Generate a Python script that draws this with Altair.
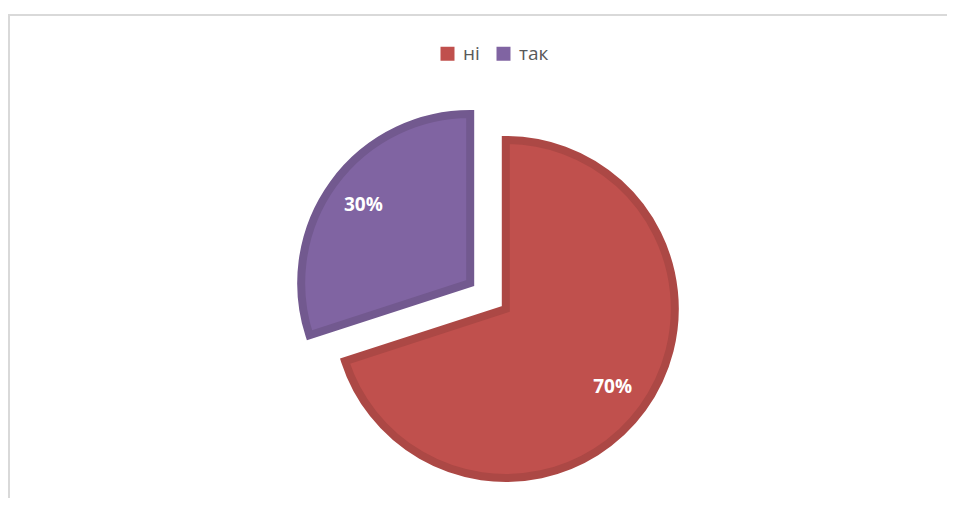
import altair as alt
import pandas as pd

categories = ["ні", "так"]
values = [70, 30]
fills = ["#C0504D", "#8064A2"]
strokes = ["#AC4845", "#72598F"]

df = pd.DataFrame({"cat": categories, "value": values, "idx": list(range(len(categories)))})

CX, CY, EXPLODE, R, LR = 480, 288, 22, 169, 132
W, H = 939, 490

base = (
    alt.Chart(df)
    .transform_joinaggregate(total="sum(value)")
    .transform_window(cum="sum(value)", sort=[alt.SortField("idx")])
    .transform_calculate(
        start="(datum.cum - datum.value) / datum.total * 2 * PI",
        end="datum.cum / datum.total * 2 * PI",
    )
    .transform_calculate(mid="(datum.start + datum.end) / 2")
    .transform_calculate(
        cx=f"{CX} + {EXPLODE} * sin(datum.mid)",
        cy=f"{CY} - {EXPLODE} * cos(datum.mid)",
        pct="format(datum.value / datum.total, '.0%')",
    )
    .transform_calculate(
        lx=f"datum.cx + {LR} * sin(datum.mid)",
        ly=f"datum.cy - {LR} * cos(datum.mid)",
    )
)

arcs = base.mark_arc(outerRadius=R, strokeWidth=8, strokeJoin="miter").encode(
    x=alt.X("cx:Q", scale=None),
    y=alt.Y("cy:Q", scale=None),
    theta=alt.Theta("start:Q", scale=None),
    theta2="end:Q",
    color=alt.Color(
        "cat:N",
        scale=alt.Scale(domain=categories, range=fills),
        legend=alt.Legend(
            orient="none",
            legendX=430,
            legendY=36,
            direction="horizontal",
            title=None,
            symbolType="square",
            symbolSize=196,
            symbolStrokeWidth=0,
            labelFont="Open Sans",
            labelFontSize=19,
            labelColor="#595959",
            labelOffset=6,
            columnPadding=14,
            padding=0,
        ),
    ),
    stroke=alt.Stroke("cat:N", scale=alt.Scale(domain=categories, range=strokes), legend=None),
)

labels = base.mark_text(
    font="Open Sans", fontSize=19, fontWeight="bold", color="white", align="center", baseline="middle"
).encode(
    x=alt.X("lx:Q", scale=None),
    y=alt.Y("ly:Q", scale=None),
    text="pct:N",
)

border_df = pd.DataFrame({"a": [0]})
top_line = alt.Chart(border_df).mark_rule(color="#D9D9D9", strokeWidth=2).encode(
    x=alt.value(0), x2=alt.value(W), y=alt.value(7)
)
left_line = alt.Chart(border_df).mark_rule(color="#D9D9D9", strokeWidth=2).encode(
    x=alt.value(1), y=alt.value(7), y2=alt.value(H)
)

chart = (
    alt.layer(top_line, left_line, arcs, labels)
    .properties(width=W, height=H, autosize=alt.AutoSizeParams(type="none"), padding=0, background="white")
    .configure_view(stroke=None)
)

chart.save("out.html", embed_options={"renderer": "svg", "actions": False})
